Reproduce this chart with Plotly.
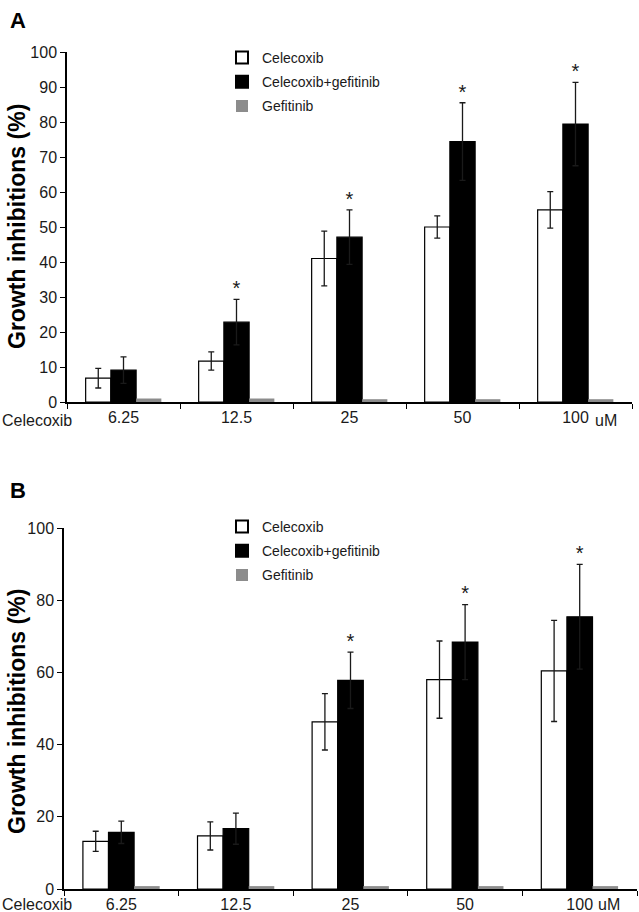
import plotly.graph_objects as go

# Celecoxib concentrations (uM)
doses = ['6.25', '12.5', '25', '50', '100']

# Panel A
a_cel = [6.8, 11.7, 41.0, 50.0, 54.9]
a_cel_err = [2.8, 2.6, 7.8, 3.2, 5.2]
a_comb = [9.1, 22.8, 47.1, 74.4, 79.4]
a_comb_err = [3.8, 6.5, 7.8, 11.1, 11.9]
a_gef = [1.0, 1.0, 0.8, 0.8, 0.8]
a_sig = [False, True, True, True, True]

# Panel B
b_cel = [13.2, 14.7, 46.3, 58.0, 60.4]
b_cel_err = [2.8, 3.9, 7.8, 10.7, 14.0]
b_comb = [15.7, 16.7, 57.8, 68.4, 75.4]
b_comb_err = [3.1, 4.3, 7.8, 10.4, 14.5]
b_gef = [0.8, 0.8, 0.8, 0.8, 0.8]
b_sig = [False, False, True, True, True]

FONT = 'Liberation Sans, Arial, sans-serif'
H = 912.0
W = 639.0

fig = go.Figure()


def add_panel(fig, xa, ya, legend, cel, cel_err, comb, comb_err, gef, sig):
    err_style = dict(type='data', color='#1a1a1a', thickness=1.3, width=3)
    fig.add_trace(go.Bar(x=doses, y=cel, name='Celecoxib', xaxis=xa, yaxis=ya,
                         legend=legend, legendgroup=legend + 'c',
                         marker=dict(color='white', line=dict(color='black', width=1.2)),
                         error_y=dict(array=cel_err, **err_style)))
    fig.add_trace(go.Bar(x=doses, y=comb, name='Celecoxib+gefitinib', xaxis=xa, yaxis=ya,
                         legend=legend, legendgroup=legend + 'cg',
                         marker=dict(color='black', line=dict(color='black', width=1.2)),
                         error_y=dict(array=comb_err, **err_style)))
    fig.add_trace(go.Bar(x=doses, y=gef, name='Gefitinib', xaxis=xa, yaxis=ya,
                         legend=legend, legendgroup=legend + 'g',
                         marker=dict(color='#8c8c8c', line=dict(color='#8c8c8c', width=0))))
    # significance stars over the combination bars
    sx = [d for d, s in zip(doses, sig) if s]
    sy = [c + e + 2.6 for c, e, s in zip(comb, comb_err, sig) if s]
    fig.add_trace(go.Scatter(x=sx, y=sy, mode='text', text=['*'] * len(sx),
                             textfont=dict(size=20, color='#1a1a1a', family=FONT),
                             xaxis=xa, yaxis=ya, showlegend=False, hoverinfo='skip'))


add_panel(fig, 'x', 'y', 'legend', a_cel, a_cel_err, a_comb, a_comb_err, a_gef, a_sig)
add_panel(fig, 'x2', 'y2', 'legend2', b_cel, b_cel_err, b_comb, b_comb_err, b_gef, b_sig)

xcommon = dict(type='category', tickson='boundaries', ticks='outside', ticklen=5,
               tickwidth=1.2, tickcolor='black', showline=True, linecolor='black',
               linewidth=1.5, showgrid=False, zeroline=False, automargin=False,
               tickfont=dict(family=FONT, size=16, color='#1a1a1a'))
ycommon = dict(range=[0, 100], ticks='outside', ticklen=5, tickwidth=1.2,
               tickcolor='black', showline=True, linecolor='black', linewidth=1.5,
               showgrid=False, zeroline=False, automargin=False,
               tickfont=dict(family=FONT, size=16, color='#1a1a1a'))

legend_common = dict(font=dict(family=FONT, size=14, color='#1a1a1a'),
                     bgcolor='rgba(0,0,0,0)', xanchor='left', yanchor='top',
                     itemsizing='constant', tracegroupgap=3)

ytitle = '<b>Growth inhibitions (%)</b>'
text_font = dict(family=FONT, size=16, color='#1a1a1a')

fig.update_layout(
    width=639, height=912,
    margin=dict(l=0, r=0, t=0, b=0, autoexpand=False),
    paper_bgcolor='white', plot_bgcolor='white',
    barmode='group', bargap=0.33, bargroupgap=0,
    xaxis=dict(domain=[67 / W, 632 / W], anchor='y', **xcommon),
    yaxis=dict(domain=[1 - 402 / H, 1 - 52 / H], anchor='x', dtick=10, **ycommon),
    xaxis2=dict(domain=[64 / W, 637 / W], anchor='y2', **xcommon),
    yaxis2=dict(domain=[1 - 889 / H, 1 - 528 / H], anchor='x2', dtick=20, **ycommon),
    legend=dict(x=222 / W, y=1 - 42 / H, **legend_common),
    legend2=dict(x=222 / W, y=1 - 511 / H, **legend_common),
    annotations=[
        dict(text='<b>A</b>', x=8 / W, y=1 - 6 / H, xref='paper', yref='paper',
             xanchor='left', yanchor='top', showarrow=False,
             font=dict(family=FONT, size=22, color='black')),
        dict(text='<b>B</b>', x=8 / W, y=1 - 476 / H, xref='paper', yref='paper',
             xanchor='left', yanchor='top', showarrow=False,
             font=dict(family=FONT, size=22, color='black')),
        dict(text=ytitle, x=17 / W, y=1 - 227 / H, xref='paper', yref='paper',
             xanchor='center', yanchor='middle', textangle=-90, showarrow=False,
             font=dict(family=FONT, size=23, color='black')),
        dict(text=ytitle, x=17 / W, y=1 - 712 / H, xref='paper', yref='paper',
             xanchor='center', yanchor='middle', textangle=-90, showarrow=False,
             font=dict(family=FONT, size=23, color='black')),
        dict(text='Celecoxib', x=0, y=1 - 420 / H, xref='paper', yref='paper',
             xanchor='left', yanchor='middle', showarrow=False, font=text_font),
        dict(text='uM', x=593 / W, y=1 - 420 / H, xref='paper', yref='paper',
             xanchor='left', yanchor='middle', showarrow=False, font=text_font),
        dict(text='Celecoxib', x=0, y=1 - 904 / H, xref='paper', yref='paper',
             xanchor='left', yanchor='middle', showarrow=False, font=text_font),
        dict(text='uM', x=596 / W, y=1 - 904 / H, xref='paper', yref='paper',
             xanchor='left', yanchor='middle', showarrow=False, font=text_font),
    ],
)

fig.write_html('out.html', config={'displayModeBar': False},
               post_script="document.body.style.margin='0';")
